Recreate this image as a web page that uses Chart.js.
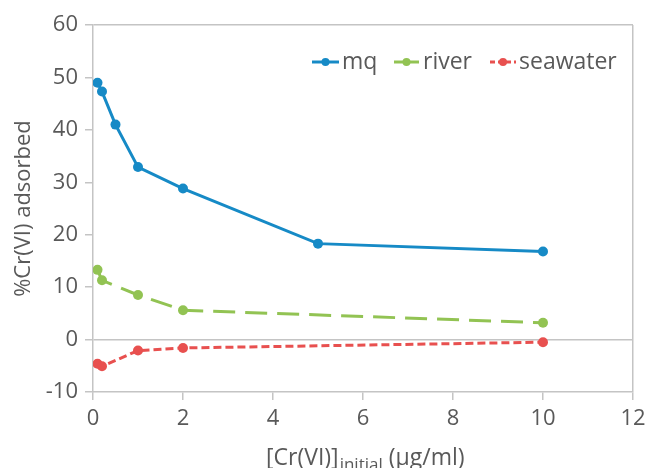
<!DOCTYPE html>
<html>
<head>
<meta charset="utf-8">
<script src="https://cdn.jsdelivr.net/npm/chart.js@4/dist/chart.umd.min.js"></script>
<style>
  html, body { margin: 0; padding: 0; background: #fff; }
  #wrap { width: 648px; height: 468px; }
</style>
</head>
<body>
<div id="wrap"><canvas id="chart"></canvas></div>
<script>
// data
const mqX = [0.1, 0.2, 0.5, 1, 2, 5, 10];
const mqY = [49.0, 47.3, 41.0, 32.9, 28.8, 18.3, 16.8];
const riverX = [0.1, 0.2, 1, 2, 10];
const riverY = [13.3, 11.3, 8.5, 5.6, 3.2];
const seaX = [0.1, 0.2, 1, 2, 10];
const seaY = [-4.6, -5.1, -2.1, -1.6, -0.5];

const seriesNames = ["mq", "river", "seawater"];
const seriesColors = ["#168ac6", "#92c353", "#e8504f"];
const seriesDash = [[], [22, 10], [8, 4]];

const textColor = "#595959";
const axisColor = "#c4c4c4";
const fontFamily = "'Open Sans', 'Noto Sans', sans-serif";

function toPoints(xs, ys) {
  return xs.map((x, i) => ({ x: x, y: ys[i] }));
}

// draws legend, axis titles (x title needs a subscript)
const decorPlugin = {
  id: "decor",
  afterDraw(chart) {
    const ctx = chart.ctx;
    const area = chart.chartArea;
    ctx.save();
    ctx.fillStyle = textColor;

    // y title
    ctx.font = "22px " + fontFamily;
    ctx.textAlign = "center";
    ctx.textBaseline = "middle";
    ctx.translate(24, (area.top + area.bottom) / 2);
    ctx.rotate(-Math.PI / 2);
    ctx.fillText("%Cr(VI) adsorbed", 0, 0);
    ctx.setTransform(1, 0, 0, 1, 0, 0);

    // x title
    const main1 = "[Cr(VI)]";
    const sub = "initial";
    const main2 = " (µg/ml)";
    ctx.textAlign = "left";
    ctx.textBaseline = "alphabetic";
    ctx.font = "23px " + fontFamily;
    const w1 = ctx.measureText(main1).width;
    ctx.font = "17px " + fontFamily;
    const w2 = ctx.measureText(sub).width;
    let x = 266;
    const base = 465;
    ctx.font = "23px " + fontFamily;
    ctx.fillText(main1, x, base);
    x += w1;
    ctx.font = "17px " + fontFamily;
    ctx.fillText(sub, x + 1, base + 5);
    x += w2 + 1;
    ctx.font = "23px " + fontFamily;
    ctx.fillText(main2, x, base);

    // legend
    const legendY = 62;
    const items = [
      { x0: 312, x1: 339, tx: 342 },
      { x0: 394, x1: 419, tx: 423 },
      { x0: 490, x1: 516, tx: 519 }
    ];
    items.forEach((it, i) => {
      ctx.strokeStyle = seriesColors[i];
      ctx.lineWidth = 3;
      ctx.setLineDash(i === 2 ? [5, 3] : []);
      ctx.beginPath();
      ctx.moveTo(it.x0, legendY);
      ctx.lineTo(it.x1, legendY);
      ctx.stroke();
      ctx.setLineDash([]);
      ctx.fillStyle = seriesColors[i];
      ctx.beginPath();
      ctx.arc((it.x0 + it.x1) / 2, legendY, 4, 0, Math.PI * 2);
      ctx.fill();
      ctx.fillStyle = textColor;
      ctx.font = "23px " + fontFamily;
      ctx.textBaseline = "middle";
      ctx.fillText(seriesNames[i], it.tx, legendY);
    });
    ctx.restore();
  }
};

function makeDataset(i, xs, ys) {
  return {
    label: seriesNames[i],
    data: toPoints(xs, ys),
    borderColor: seriesColors[i],
    backgroundColor: seriesColors[i],
    borderWidth: 3,
    borderDash: seriesDash[i],
    pointRadius: 5,
    pointBorderWidth: 0,
    pointHoverRadius: 5,
    tension: 0,
    fill: false
  };
}

new Chart(document.getElementById("chart"), {
  type: "scatter",
  data: {
    datasets: [
      makeDataset(0, mqX, mqY),
      makeDataset(1, riverX, riverY),
      makeDataset(2, seaX, seaY)
    ]
  },
  options: {
    responsive: true,
    maintainAspectRatio: false,
    animation: false,
    showLine: true,
    layout: { padding: { top: 25, right: 15, left: 0, bottom: 0 } },
    plugins: {
      legend: { display: false },
      tooltip: { enabled: false }
    },
    scales: {
      x: {
        type: "linear",
        min: 0,
        max: 12,
        afterFit: (scale) => {
          scale.height = 76;
          scale.paddingRight = 0;
          scale.paddingLeft = 0;
        },
        ticks: {
          stepSize: 2,
          color: textColor,
          padding: 6,
          font: { family: fontFamily, size: 22 }
        },
        grid: {
          color: (c) => (c.tick && c.tick.value === 12 ? axisColor : "rgba(0,0,0,0)"),
          tickColor: axisColor,
          tickLength: 8,
          lineWidth: 1.5
        },
        border: { color: axisColor, width: 1.5 }
      },
      y: {
        min: -10,
        max: 60,
        afterFit: (scale) => { scale.width = 93; },
        ticks: {
          stepSize: 10,
          color: textColor,
          padding: 7,
          font: { family: fontFamily, size: 22 }
        },
        grid: {
          color: (c) => (c.tick && (c.tick.value === 0 || c.tick.value === 60) ? axisColor : "rgba(0,0,0,0)"),
          tickColor: axisColor,
          tickLength: 8,
          lineWidth: 1.5
        },
        border: { color: axisColor, width: 1.5 }
      }
    }
  },
  plugins: [decorPlugin]
});
</script>
</body>
</html>
